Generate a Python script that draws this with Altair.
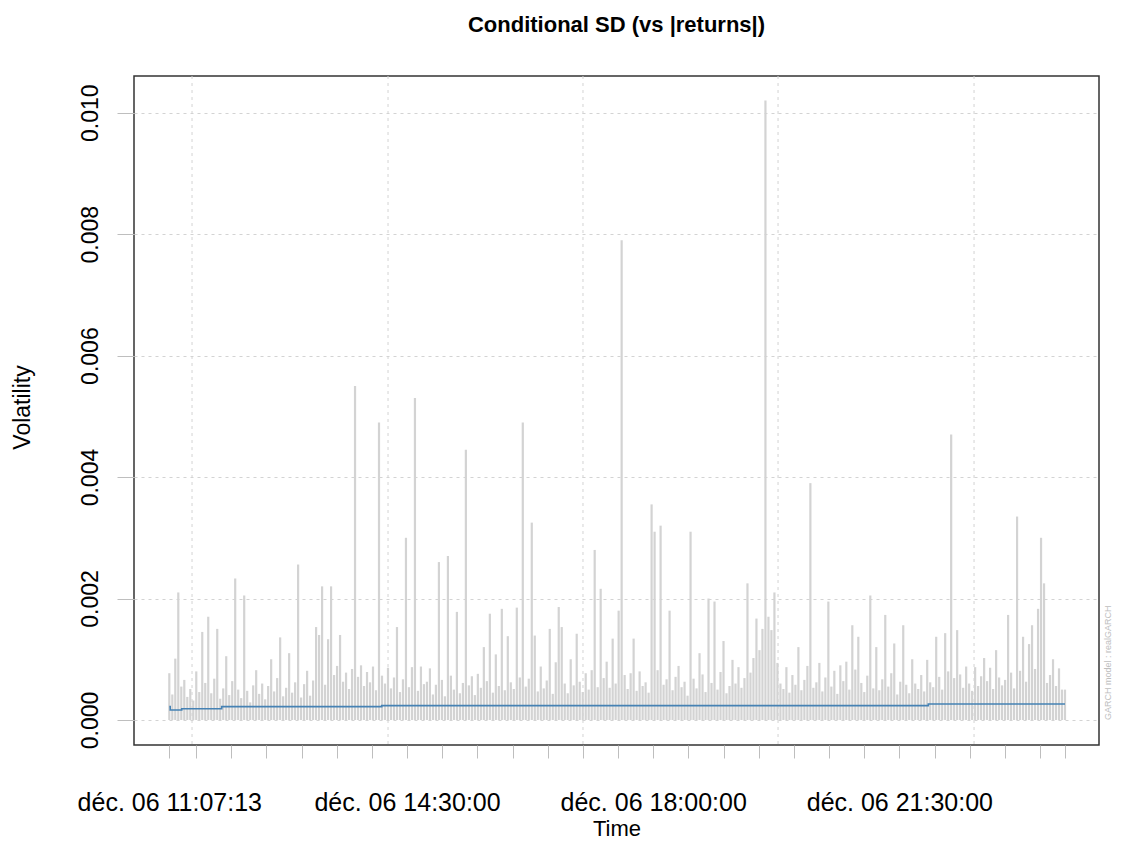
import altair as alt
import pandas as pd

FONT = "Liberation Sans"

title_text = "Conditional SD (vs |returns|)"
x_title = "Time"
y_title = "Volatility"
model_note = "GARCH model : realGARCH"

# observation window, minutes after midnight on 6 Dec
start_minute = 667.2167   # 11:07:13
end_minute = 1431.3       # ~23:51

abs_returns_e4 = [
    7.7, 4.2, 10.1, 21, 5.5, 6.6, 3.8, 5.1, 3.2, 8.0, 4.6, 14.5, 6.1, 17, 4.4, 6.8, 15, 3.5, 5.2, 10.5,
    4.1, 6.4, 23.3, 5.0, 3.6, 20.5, 4.8, 2.9, 5.7, 8.2, 4.3, 6.0, 3.4, 5.6, 10, 4.7, 6.9, 13.6, 3.9, 5.3,
    11, 4.5, 6.2, 25.6, 3.7, 5.9, 8.1, 4.0, 6.5, 15.3, 14, 22, 5.8, 13.3, 22, 7.4, 8.9, 14, 6.3, 7.8,
    5.1, 8.4, 55, 7.1, 9.0, 5.6, 7.9, 6.2, 8.8, 4.9, 49, 7.3, 6.0, 8.6, 5.2, 7.0, 15.3, 4.6, 6.7, 30,
    5.4, 8.7, 53, 4.8, 8.8, 5.9, 6.3, 8.5, 4.2, 5.8, 26, 6.6, 3.9, 27, 7.3, 5.0, 17.8, 4.4, 6.1, 44.5,
    5.7, 7.2, 4.1, 7.6, 5.3, 12, 6.4, 17.5, 4.5, 10.8, 5.6, 18.3, 4.9, 13.8, 6.2, 5.1, 18.5, 7.0, 49, 5.5,
    6.8, 32.5, 13.9, 4.7, 8.8, 5.2, 6.5, 15, 4.3, 9.5, 18.6, 15.3, 6.0, 4.4, 10.0, 5.7, 14.2, 6.3, 4.6, 7.7,
    5.0, 8.2, 28, 5.4, 21.6, 6.9, 9.6, 5.3, 13.4, 6.0, 18, 79, 7.4, 5.1, 7.7, 13.4, 4.8, 8.0, 5.6, 6.2,
    4.5, 35.5, 31, 8.2, 32, 5.8, 6.7, 18, 4.9, 7.1, 8.9, 5.4, 6.3, 4.0, 31, 6.8, 5.2, 11, 7.5, 4.6,
    20, 6.1, 19.5, 5.0, 7.9, 13, 4.4, 5.6, 9.9, 6.0, 8.7, 5.3, 6.9, 22.5, 7.8, 10.2, 16.7, 11.5, 15.0, 102,
    17, 14.8, 21, 9.4, 6.0, 5.1, 8.7, 4.5, 7.4, 5.8, 12, 4.9, 6.6, 8.9, 39, 5.3, 6.2, 9.4, 4.7, 7.0,
    19.5, 5.5, 8.1, 4.3, 9.0, 6.4, 9.6, 5.0, 15.6, 8.3, 13.7, 6.1, 4.6, 7.3, 20.5, 5.2, 12, 4.9, 6.7, 17.3,
    5.5, 7.7, 12.6, 4.2, 6.3, 15.6, 5.8, 4.4, 10.0, 6.0, 5.1, 7.4, 4.7, 9.9, 6.2, 5.4, 13.7, 7.1, 5.0, 14.3,
    8.0, 47, 6.9, 14.8, 7.5, 5.3, 8.8, 6.0, 4.8, 8.7, 5.6, 7.2, 10.2, 6.4, 8.6, 5.1, 11.5, 7.0, 5.7, 6.6,
    17.3, 7.8, 5.2, 33.5, 8.1, 13.7, 6.3, 12.5, 15.6, 8.4, 18.3, 30, 22.5, 6.1, 7.4, 10, 5.6, 8.5, 5.0, 5,
]

# conditional SD (step series)
sigma_minutes = [667.22, 668.0, 677.8, 711.9, 848.4, 1314.7, 1431.3]
sigma_values = [0.00022, 0.000165, 0.000186, 0.00022, 0.000236, 0.000263, 0.000263]

# axis ticks / labels
tick_minutes = [667.2167] + list(range(690, 1411, 30)) + [1431.3]
label_minutes = [667.2167, 870, 1080, 1290]
label_texts = ["déc. 06 11:07:13", "déc. 06 14:30:00", "déc. 06 18:00:00", "déc. 06 21:30:00"]
grid_minutes = [686.6, 853.8, 1020.1, 1186.5, 1353.7]
y_ticks = [0.0, 0.002, 0.004, 0.006, 0.008, 0.010]

# ---- tables
n = len(abs_returns_e4)
step = (end_minute - start_minute) / (n - 1)
ret_df = pd.DataFrame({
    "t": [start_minute + i * step for i in range(n)],
    "v": [v / 1e4 for v in abs_returns_e4],
})
sigma_df = pd.DataFrame({"t": sigma_minutes, "v": sigma_values})
grid_df = pd.DataFrame({"t": grid_minutes})
note_df = pd.DataFrame({"note": [model_note]})

x_scale = alt.Scale(domain=[637.1, 1460.3], nice=False, zero=False)
y_scale = alt.Scale(domain=[-0.000412, 0.010604], nice=False, zero=False)

expr = ""
for m, s in zip(label_minutes, label_texts):
    expr += f"abs(datum.value - {m}) < 0.01 ? '{s}' : "
expr += "''"

x_axis = alt.Axis(
    values=tick_minutes, labelExpr=expr, title=x_title, grid=False, domain=False,
    tickSize=13, tickColor="#BEBEBE", tickWidth=1,
    labelFontSize=25, labelFont=FONT, labelColor="#000000", labelPadding=52, labelLimit=500,
    labelBaseline="alphabetic", labelOverlap=False, labelFlush=False, labelBound=False,
    titleFontSize=22, titleFont=FONT, titleFontWeight="normal", titleColor="#000000",
    titleY=90, titleBaseline="alphabetic",
)
y_axis = alt.Axis(
    values=y_ticks, format=".3f", title=y_title, grid=True, gridColor="#D3D3D3",
    gridDash=[3, 4], gridWidth=1, domain=False, tickSize=17, tickColor="#BEBEBE",
    labelAngle=270, labelAlign="center", labelBaseline="alphabetic", labelPadding=20,
    labelFontSize=23, labelFont=FONT, labelColor="#000000",
    titleAngle=270, titleX=-105, titleY=331, titleBaseline="alphabetic", titleAlign="center",
    titleFontSize=23, titleFont=FONT, titleFontWeight="normal", titleColor="#000000",
)

X = alt.X("t:Q", scale=x_scale, axis=x_axis, title=x_title)
Y = alt.Y("v:Q", scale=y_scale, axis=y_axis, title=y_title)

grid = alt.Chart(grid_df).mark_rule(color="#D3D3D3", strokeDash=[3, 4], strokeWidth=1).encode(x=X)

spikes = alt.Chart(ret_df).mark_rule(color="#D3D3D3", strokeWidth=2.2).encode(
    x=X, y=Y, y2=alt.datum(0.0),
)

sigma = alt.Chart(sigma_df).mark_line(color="#4682B4", strokeWidth=1.6, interpolate="step-after").encode(
    x=X, y=Y,
)

note = alt.Chart(note_df).mark_text(
    angle=270, align="left", baseline="middle", fontSize=9, font=FONT, color="#BEBEBE"
).encode(x=alt.value(974), y=alt.value(644), text="note:N")

chart = alt.layer(grid, spikes, sigma, note).properties(
    width=965, height=669,
    title=alt.TitleParams(text=title_text, fontSize=22, font=FONT, fontWeight="bold",
                          color="#000000", anchor="middle", offset=22,
                          baseline="alphabetic", frame="group"),
    autosize=alt.AutoSizeParams(type="none"),
    padding={"left": 126, "top": 68, "right": 15, "bottom": 94},
).configure_view(stroke="#333333", strokeWidth=1.5)

chart.save("out.html", embed_options={"renderer": "svg", "actions": False})
